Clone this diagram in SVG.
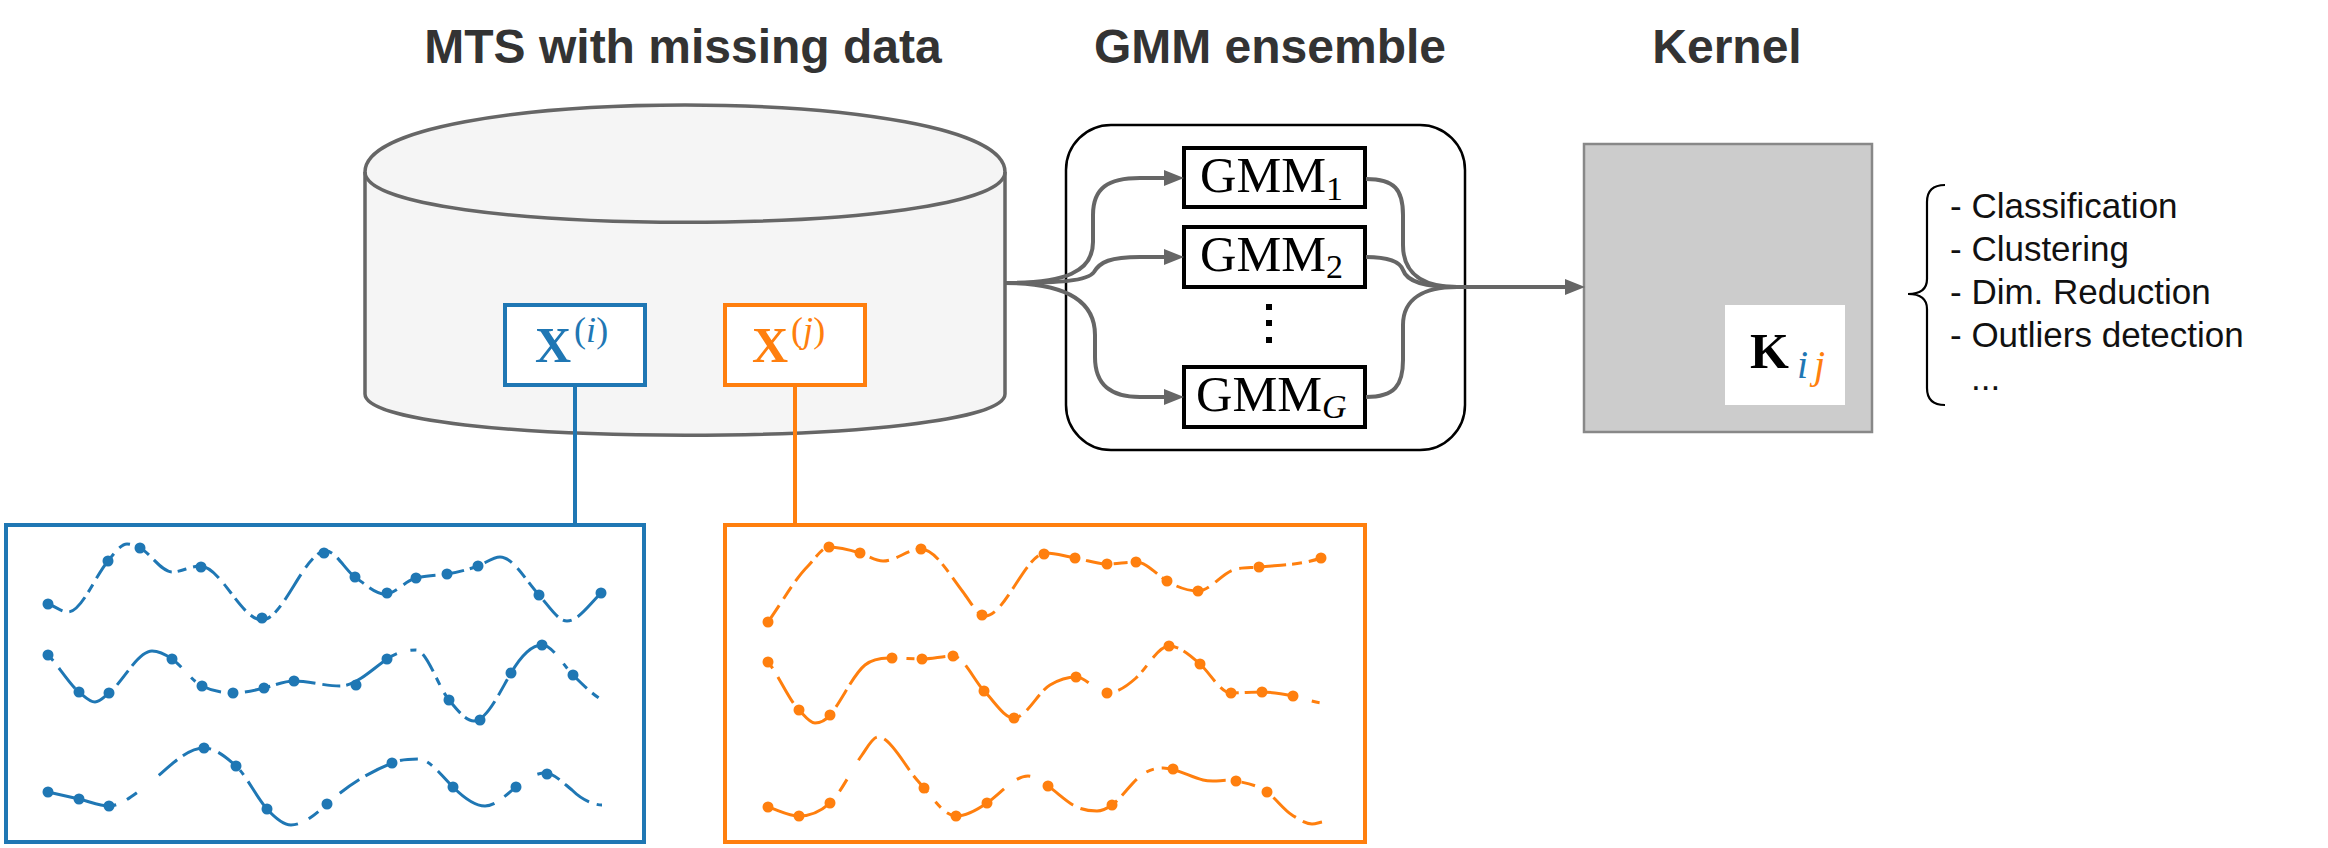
<svg xmlns="http://www.w3.org/2000/svg" width="2328" height="848" viewBox="0 0 2328 848">
<style>
.title{font-family:"Liberation Sans",Arial,sans-serif;font-weight:bold;font-size:48px;fill:#333;text-anchor:middle}
.list{font-family:"Liberation Sans",Arial,sans-serif;font-size:35px;fill:#111}
.math{font-family:"Liberation Serif","Times New Roman",serif;fill:#000}
.conn{fill:none;stroke:#666;stroke-width:4}
.gbox{fill:#fff;stroke:#000;stroke-width:4}
.sb{fill:none;stroke:#1f77b4;stroke-width:3}
.so{fill:none;stroke:#ff7f0e;stroke-width:3}
.db{fill:#1f77b4}
.do{fill:#ff7f0e}
</style>
<defs>
<marker id="arr" viewBox="0 0 20 16" refX="10" refY="8" markerWidth="20" markerHeight="16" markerUnits="userSpaceOnUse" orient="auto">
<path d="M0,0 L20,8 L0,16 Z" fill="#666"/>
</marker>
</defs>
<rect width="2328" height="848" fill="#fff"/>

<g id="titles">
<text class="title" x="683" y="63">MTS with missing data</text>
<text class="title" x="1270" y="63">GMM ensemble</text>
<text class="title" x="1727" y="63">Kernel</text>
</g>

<g id="database">
<path d="M365,172 C365,82.7 1005,82.7 1005,172 L1005,394 C1005,449 365,449 365,394 Z" fill="#f5f5f5" stroke="#666" stroke-width="3.5"/>
<path d="M365,172 C365,239 1005,239 1005,172" fill="none" stroke="#666" stroke-width="3.5"/>
</g>

<g id="links-x">
<line x1="575" y1="386" x2="575" y2="525" stroke="#1f77b4" stroke-width="4"/>
<line x1="795" y1="386" x2="795" y2="525" stroke="#ff7f0e" stroke-width="4"/>
</g>

<g id="xi">
<rect x="505" y="305" width="140" height="80" fill="#fff" stroke="#1f77b4" stroke-width="4"/>
<text class="math" x="535" y="362" style="fill:#1f77b4"><tspan font-weight="bold" font-size="50">X</tspan><tspan font-size="36" dy="-20" dx="3">(<tspan font-style="italic">i</tspan>)</tspan></text>
</g>
<g id="xj">
<rect x="725" y="305" width="140" height="80" fill="#fff" stroke="#ff7f0e" stroke-width="4"/>
<text class="math" x="752" y="362" style="fill:#ff7f0e"><tspan font-weight="bold" font-size="50">X</tspan><tspan font-size="36" dy="-20" dx="3">(<tspan font-style="italic">j</tspan>)</tspan></text>
</g>

<g id="ensemble">
<rect x="1066" y="125" width="399" height="325" rx="45" ry="45" fill="#fff" stroke="#000" stroke-width="2.5"/>
</g>

<g id="gmm1">
<rect class="gbox" x="1184" y="148" width="181" height="59"/>
<text class="math" x="1200" y="192" font-size="50"><tspan textLength="126" lengthAdjust="spacingAndGlyphs">GMM</tspan><tspan font-size="34" dy="8">1</tspan></text>
</g>
<g id="gmm2">
<rect class="gbox" x="1184" y="227" width="181" height="60"/>
<text class="math" x="1200" y="271" font-size="50"><tspan textLength="126" lengthAdjust="spacingAndGlyphs">GMM</tspan><tspan font-size="34" dy="7">2</tspan></text>
</g>
<g id="vdots">
<rect x="1266" y="304" width="6" height="6"/>
<rect x="1266" y="320" width="6" height="6"/>
<rect x="1266" y="337" width="6" height="6"/>
</g>
<g id="gmmG">
<rect class="gbox" x="1184" y="367" width="181" height="60"/>
<text class="math" x="1196" y="411" font-size="50"><tspan textLength="126" lengthAdjust="spacingAndGlyphs">GMM</tspan><tspan font-size="34" dy="7" font-style="italic">G</tspan></text>
</g>

<g id="kernel">
<rect x="1584" y="144" width="288" height="288" fill="#ccc" stroke="#888" stroke-width="2.5"/>
<rect x="1725" y="305" width="120" height="100" fill="#fff"/>
<text class="math" x="1750" y="368" font-size="50" font-weight="bold">K</text>
<text class="math" x="1797" y="378" font-size="40" font-style="italic" style="fill:#1f77b4">i</text>
<text class="math" x="1814" y="378" font-size="40" font-style="italic" style="fill:#ff7f0e">j</text>
</g>

<g id="tasks">
<path d="M1945,185 Q1927,185 1927,202 L1927,279 Q1927,294 1908,294 Q1927,294 1927,309 L1927,388 Q1927,405 1945,405" fill="none" stroke="#000" stroke-width="2.2"/>
<text class="list" x="1950" y="218">- Classification</text>
<text class="list" x="1950" y="261">- Clustering</text>
<text class="list" x="1950" y="304">- Dim. Reduction</text>
<text class="list" x="1950" y="347">- Outliers detection</text>
<text class="list" x="1971" y="390">...</text>
</g>

<g id="connectors">
<path class="conn" marker-end="url(#arr)" d="M1005,283 C1065,283 1093,272 1093,242 L1093,215 C1093,188 1108,178 1140,178 L1174,178"/>
<path class="conn" marker-end="url(#arr)" d="M1005,283 C1060,283 1088,281 1094,272 C1100,262 1110,257 1140,257 L1174,257"/>
<path class="conn" marker-end="url(#arr)" d="M1005,283 C1068,283 1095,302 1095,335 L1095,357 C1095,386 1112,397 1140,397 L1174,397"/>
<path class="conn" d="M1366,179 C1395,179 1403,190 1403,215 L1403,245 C1403,275 1425,287 1457,287"/>
<path class="conn" d="M1366,257 C1390,257 1400,262 1403,270 C1407,282 1425,287 1457,287"/>
<path class="conn" d="M1366,397 C1395,397 1403,385 1403,360 L1403,325 C1403,298 1425,287 1457,287"/>
<path class="conn" marker-end="url(#arr)" d="M1457,287 L1575,287"/>
</g>

<g id="series-i">
<rect x="6" y="525" width="638" height="317" fill="#fff" stroke="#1f77b4" stroke-width="4"/>
<path class="sb" stroke-dasharray="16 7 22 6 9 7 30 8 12 6" d="M48,604 C54.7,606 61.3,612 68,612 C81.3,612 94.7,577 108,561 C114.3,553.4 120.7,544 127,544 C131.3,544 135.7,545.8 140,548 C150.7,553.3 161.3,572 172,572 C181.3,572 190.7,566 200,566 C220.7,566 241.3,620 262,620 C283.3,620 304.7,551 326,551 C335.7,551 345.3,570.2 355,577 C365,584 375,594 385,594 C395.3,594 405.7,580.6 416,578 C426.3,575.4 436.7,575.5 447,574 C457.3,572.5 467.7,569.6 478,566 C485.3,563.4 492.7,557 500,557 C513,557 526,580.7 539,595 C548.3,605.2 557.7,621 567,621 C578.3,621 589.7,604.3 601,593"/>
<path class="sb" stroke-dasharray="8 9 26 6 40 7 18 6 60 14 6 8 20 7" d="M48,655 C58.3,665.3 68.7,683.7 79,692 C84.3,696.3 89.7,702 95,702 C99.7,702 104.3,696.8 109,693 C123.3,681.6 137.7,651 152,651 C158.7,651 165.3,654.3 172,659 C182,666 192,681 202,686 C212.3,691.2 222.7,693 233,693 C243.3,693 253.7,690.6 264,688 C274,685.5 284,681 294,681 C309.3,681 324.7,686 340,686 C355.7,686 371.3,670 387,659 C396.7,652.2 406.3,650 416,650 C427,650 438,686.8 449,700 C457.3,710 465.7,721 474,721 C486.3,721 498.7,694 511,673 C521.3,655.5 531.7,645 542,645 C552.3,645 562.7,664.7 573,675 C582.7,684.7 592.3,694.2 602,700"/>
<path class="sb" stroke-dasharray="70 12 12 28 24 7 30 8 18 10 6 8" d="M48,792 C58.3,794.3 68.7,796.7 79,799 C89,801.2 99,806 109,806 C120,806 131,796.7 142,789 C162.7,774.5 183.3,748 204,748 C214.7,748 225.3,756.4 236,766 C246.3,775.3 256.7,797.7 267,809 C275,817.8 283,825 291,825 C303,825 315,814.8 327,804 C348.7,784.5 370.3,771.7 392,763 C400.7,759.5 409.3,759 418,759 C429.7,759 441.3,775.3 453,787 C463.7,797.7 474.3,806 485,806 C495.3,806 505.7,795.2 516,787 C525.7,779.2 535.3,773 545,773 C554,773 563,782.8 572,790 C580,798 592,805 602,805"/>
<g class="db">
<circle cx="48" cy="604" r="5.5"/><circle cx="108" cy="561" r="5.5"/><circle cx="140" cy="548" r="5.5"/><circle cx="201" cy="567" r="5.5"/><circle cx="262" cy="618" r="5.5"/><circle cx="324" cy="553" r="5.5"/><circle cx="355" cy="577" r="5.5"/><circle cx="387" cy="593" r="5.5"/><circle cx="416" cy="578" r="5.5"/><circle cx="447" cy="574" r="5.5"/><circle cx="478" cy="566" r="5.5"/><circle cx="539" cy="595" r="5.5"/><circle cx="601" cy="593" r="5.5"/>
<circle cx="48" cy="655" r="5.5"/><circle cx="79" cy="692" r="5.5"/><circle cx="109" cy="693" r="5.5"/><circle cx="172" cy="659" r="5.5"/><circle cx="202" cy="686" r="5.5"/><circle cx="233" cy="693" r="5.5"/><circle cx="264" cy="688" r="5.5"/><circle cx="294" cy="681" r="5.5"/><circle cx="356" cy="685" r="5.5"/><circle cx="387" cy="659" r="5.5"/><circle cx="449" cy="700" r="5.5"/><circle cx="480" cy="720" r="5.5"/><circle cx="511" cy="673" r="5.5"/><circle cx="542" cy="645" r="5.5"/><circle cx="573" cy="675" r="5.5"/>
<circle cx="48" cy="792" r="5.5"/><circle cx="79" cy="799" r="5.5"/><circle cx="109" cy="806" r="5.5"/><circle cx="204" cy="748" r="5.5"/><circle cx="236" cy="766" r="5.5"/><circle cx="267" cy="809" r="5.5"/><circle cx="327" cy="804" r="5.5"/><circle cx="392" cy="763" r="5.5"/><circle cx="453" cy="787" r="5.5"/><circle cx="516" cy="787" r="5.5"/><circle cx="547" cy="774" r="5.5"/>
</g>
</g>

<g id="series-j">
<rect x="725" y="525" width="640" height="317" fill="#fff" stroke="#ff7f0e" stroke-width="4"/>
<path class="so" stroke-dasharray="20 8 14 7 26 6 10 7 34 8" d="M768,622 C781.3,603.4 794.7,579.3 808,566 C815,559 822,547 829,547 C839.3,547 849.7,549.9 860,553 C867.7,555.3 875.3,561 883,561 C895.7,561 908.3,549 921,549 C935,549 949,573.8 963,592 C970.3,601.5 977.7,616 985,616 C1005.3,616 1025.7,553 1046,553 C1055.7,553 1065.3,556.5 1075,558 C1085.7,559.6 1096.3,564 1107,564 C1116.7,564 1126.3,562 1136,562 C1146.3,562 1156.7,574.8 1167,581 C1177.3,587.2 1187.7,591 1198,591 C1209.7,591 1221.3,574.1 1233,570 C1241.7,567 1250.3,567.9 1259,567 C1279.7,564.9 1300.3,565.2 1321,558"/>
<path class="so" stroke-dasharray="8 10 30 6 44 8 20 6 50 18 8 7 24 6" d="M768,662 C778.3,674.4 788.7,699.7 799,710 C804.3,715.3 809.7,723 815,723 C820,723 825,721 830,715 C841.7,701 853.3,674.4 865,665 C874,657.8 883,658 892,658 C902,658 912,659 922,659 C932.3,659 942.7,656 953,656 C963.3,656 973.7,679.7 984,691 C995,702 1004,718 1014,718 C1026,718 1038,692.2 1050,685 C1058.7,679.8 1067.3,677 1076,677 C1086.3,677 1096.7,693 1107,693 C1116.7,693 1126.3,686.7 1136,678 C1147,668.1 1158,646 1169,646 C1179.3,646 1189.7,654.7 1200,664 C1210.3,673.3 1220.7,693 1231,693 C1241.3,693 1251.7,692 1262,692 C1272.3,692 1282.7,693.9 1293,696 C1302.7,697.9 1312.3,702 1322,703"/>
<path class="so" stroke-dasharray="66 16 14 22 30 8 40 7 22 12 8 8" d="M768,807 C778.3,810.1 788.7,816 799,816 C809.3,816 819.7,812.3 830,803 C840.7,793.4 851.3,770 862,755 C867.3,747.6 872.7,737 878,737 C889.7,737 901.3,759.8 913,775 C916.7,779.8 920.3,783.6 924,788 C934.7,800.8 945.3,816 956,816 C966.3,816 976.7,810.2 987,803 C1000.7,793.4 1014.3,776 1028,776 C1034.7,776 1041.3,781.3 1048,786 C1056.3,791.8 1064.7,800 1073,805 C1081,809.8 1089,811 1097,811 C1102,811 1107,808.5 1112,805 C1120.7,798.9 1129.3,785.8 1138,778 C1146.3,770.5 1154.7,768 1163,768 C1176.3,768 1189.7,776.7 1203,780 C1214,782.8 1225,778.8 1236,781 C1246.3,783.1 1256.7,784.8 1267,792 C1275.3,797.8 1283.7,810 1292,815 C1298.7,819 1305.3,824 1312,824 C1315.3,824 1318.7,822.7 1322,822"/>
<g class="do">
<circle cx="768" cy="622" r="5.5"/><circle cx="829" cy="547" r="5.5"/><circle cx="860" cy="553" r="5.5"/><circle cx="921" cy="549" r="5.5"/><circle cx="982" cy="615" r="5.5"/><circle cx="1044" cy="554" r="5.5"/><circle cx="1075" cy="558" r="5.5"/><circle cx="1107" cy="564" r="5.5"/><circle cx="1136" cy="562" r="5.5"/><circle cx="1167" cy="581" r="5.5"/><circle cx="1198" cy="591" r="5.5"/><circle cx="1259" cy="567" r="5.5"/><circle cx="1321" cy="558" r="5.5"/>
<circle cx="768" cy="662" r="5.5"/><circle cx="799" cy="710" r="5.5"/><circle cx="830" cy="715" r="5.5"/><circle cx="892" cy="658" r="5.5"/><circle cx="922" cy="659" r="5.5"/><circle cx="953" cy="656" r="5.5"/><circle cx="984" cy="691" r="5.5"/><circle cx="1014" cy="718" r="5.5"/><circle cx="1076" cy="677" r="5.5"/><circle cx="1107" cy="693" r="5.5"/><circle cx="1169" cy="646" r="5.5"/><circle cx="1200" cy="664" r="5.5"/><circle cx="1231" cy="693" r="5.5"/><circle cx="1262" cy="692" r="5.5"/><circle cx="1293" cy="696" r="5.5"/>
<circle cx="768" cy="807" r="5.5"/><circle cx="799" cy="816" r="5.5"/><circle cx="830" cy="803" r="5.5"/><circle cx="924" cy="788" r="5.5"/><circle cx="956" cy="816" r="5.5"/><circle cx="987" cy="803" r="5.5"/><circle cx="1048" cy="786" r="5.5"/><circle cx="1112" cy="805" r="5.5"/><circle cx="1173" cy="769" r="5.5"/><circle cx="1236" cy="781" r="5.5"/><circle cx="1267" cy="792" r="5.5"/>
</g>
</g>
</svg>
